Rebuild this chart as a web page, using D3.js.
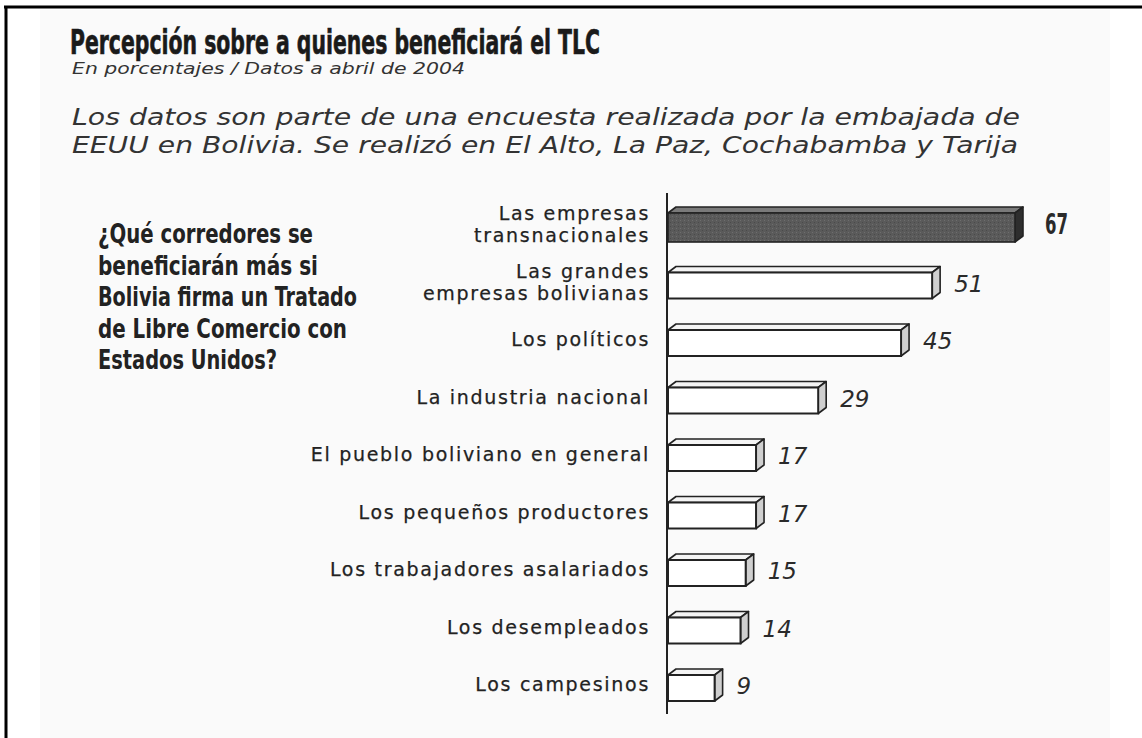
<!DOCTYPE html>
<html><head><meta charset="utf-8">
<script src="https://cdn.jsdelivr.net/npm/d3@7"></script>
<style>
html,body{margin:0;padding:0;background:#fff;}
svg{display:block;}
</style></head>
<body>
<svg id="chart" width="1142" height="738"></svg>
<script>
const categories = [
  "Las empresas\ntransnacionales",
  "Las grandes\nempresas bolivianas",
  "Los políticos",
  "La industria nacional",
  "El pueblo boliviano en general",
  "Los pequeños productores",
  "Los trabajadores asalariados",
  "Los desempleados",
  "Los campesinos"
];
const values = [67, 51, 45, 29, 17, 17, 15, 14, 9];
const titleText = "Percepción sobre a quienes beneficiará el TLC";
const subtitleText = "En porcentajes / Datos a abril de 2004";
const introLines = [
  "Los datos son parte de una encuesta realizada por la embajada de",
  "EEUU en Bolivia. Se realizó en El Alto, La Paz, Cochabamba y Tarija"
];
const questionLines = [
  "¿Qué corredores se",
  "beneficiarán más si",
  "Bolivia firma un Tratado",
  "de Libre Comercio con",
  "Estados Unidos?"
];

const svg = d3.select("#chart");
const W = 1142, H = 738;

const defs = svg.append("defs");
defs.append("filter").attr("id","blur").append("feGaussianBlur").attr("stdDeviation",1.5);
const pat = defs.append("pattern").attr("id","tex").attr("patternUnits","userSpaceOnUse")
  .attr("width",4).attr("height",4);
pat.append("rect").attr("width",4).attr("height",4).attr("fill","#5a5a5a");
pat.append("rect").attr("x",0).attr("y",0).attr("width",1).attr("height",1).attr("fill","#6e6e6e");
pat.append("rect").attr("x",2).attr("y",2).attr("width",1).attr("height",1).attr("fill","#4a4a4a");

svg.append("rect").attr("width",W).attr("height",H).attr("fill","#fff");
svg.append("rect").attr("x",40).attr("y",10).attr("width",1070).attr("height",H-10).attr("fill","#fafafa");
// frame
svg.append("line").attr("x1",4).attr("x2",W).attr("y1",7).attr("y2",7).attr("stroke","#000").attr("stroke-width",3);
svg.append("line").attr("x1",6).attr("x2",6).attr("y1",6).attr("y2",H).attr("stroke","#000").attr("stroke-width",3);

const condensed = "'Liberation Sans Narrow','DejaVu Sans Condensed','Roboto Condensed',sans-serif";

svg.append("text").attr("x",70).attr("y",54)
  .attr("font-family",condensed).attr("font-weight","bold").attr("font-size",33)
  .attr("fill","#1a1a1a").attr("stroke","#1a1a1a").attr("stroke-width",0.6)
  .attr("textLength",530).attr("lengthAdjust","spacingAndGlyphs")
  .text(titleText);
svg.append("text").attr("x",72).attr("y",74)
  .attr("font-family","'DejaVu Sans',sans-serif").attr("font-style","italic").attr("font-size",15)
  .attr("fill","#333").attr("textLength",393).attr("lengthAdjust","spacingAndGlyphs")
  .text(subtitleText);
introLines.forEach((t,i)=>{
  svg.append("text").attr("x",72).attr("y",125+i*28)
    .attr("font-family","'DejaVu Sans',sans-serif").attr("font-style","italic").attr("font-size",23)
    .attr("fill","#333").attr("textLength",i===0?948:946).attr("lengthAdjust","spacingAndGlyphs")
    .text(t);
});
const qLens = [215, 220, 259, 249, 179];
questionLines.forEach((t,i)=>{
  svg.append("text").attr("x",98).attr("y",243+i*31.5)
    .attr("font-family",condensed).attr("font-weight","bold").attr("font-size",27)
    .attr("fill","#222").attr("textLength",qLens[i]).attr("lengthAdjust","spacingAndGlyphs")
    .text(t);
});

const x = d3.scaleLinear().domain([0,67]).range([668,1015]);
const y = d3.scaleBand().domain(categories).range([196.25,713.75]);
const dx = 8, dz = 6;

// axis line
svg.append("line").attr("x1",667).attr("x2",667).attr("y1",193).attr("y2",714)
  .attr("stroke","#222").attr("stroke-width",2);

const g = svg.append("g");
categories.forEach((c,i)=>{
  const v = values[i];
  const cy = y(c) + y.bandwidth()/2;
  const big = i===0;
  const ft = cy - (big?12:10), fb = cy + (big?17:16);
  const x0 = x(0), x1 = x(v);
  // shadow
  g.append("line").attr("x1",x0+6).attr("x2",x1-4).attr("y1",fb+6).attr("y2",fb+6)
    .attr("stroke","#bbb").attr("stroke-width",3).attr("filter","url(#blur)");
  // top face
  g.append("path").attr("d",`M${x0},${ft}L${x0+dx},${ft-dz}L${x1+dx},${ft-dz}L${x1},${ft}Z`)
    .attr("fill",big?"#7a7a7a":"#f4f4f4").attr("stroke","#222").attr("stroke-width",1.6).attr("stroke-linejoin","round");
  // side face
  g.append("path").attr("d",`M${x1},${ft}L${x1+dx},${ft-dz}L${x1+dx},${fb-dz}L${x1},${fb}Z`)
    .attr("fill",big?"#2e2e2e":"#cfcfcf").attr("stroke","#222").attr("stroke-width",1.6).attr("stroke-linejoin","round");
  // front
  g.append("rect").attr("x",x0).attr("y",ft).attr("width",x1-x0).attr("height",fb-ft)
    .attr("fill",big?"url(#tex)":"#fff").attr("stroke","#222").attr("stroke-width",big?1.6:2);
  // value label
  const vt = g.append("text").attr("x",x1+dx+(big?22:14)).attr("y",cy+9)
    .attr("fill","#2a2a2a").text(v);
  if(big){
    vt.attr("font-family",condensed).attr("font-weight","bold").attr("font-size",29)
      .attr("textLength",23).attr("lengthAdjust","spacingAndGlyphs");
  } else {
    vt.attr("font-family","'DejaVu Sans',sans-serif").attr("font-style","italic").attr("font-size",23);
  }
  // category label
  const lines = c.split("\n");
  lines.forEach((l,j)=>{
    g.append("text").attr("x",650).attr("y",cy + (j-(lines.length-1)/2)*22 + 6)
      .attr("text-anchor","end").attr("font-family","'DejaVu Sans',sans-serif").attr("font-size",19)
      .attr("letter-spacing",1.7).attr("stroke","#222").attr("stroke-width",0.25)
      .attr("fill","#222").text(l);
  });
});
</script>
</body></html>
